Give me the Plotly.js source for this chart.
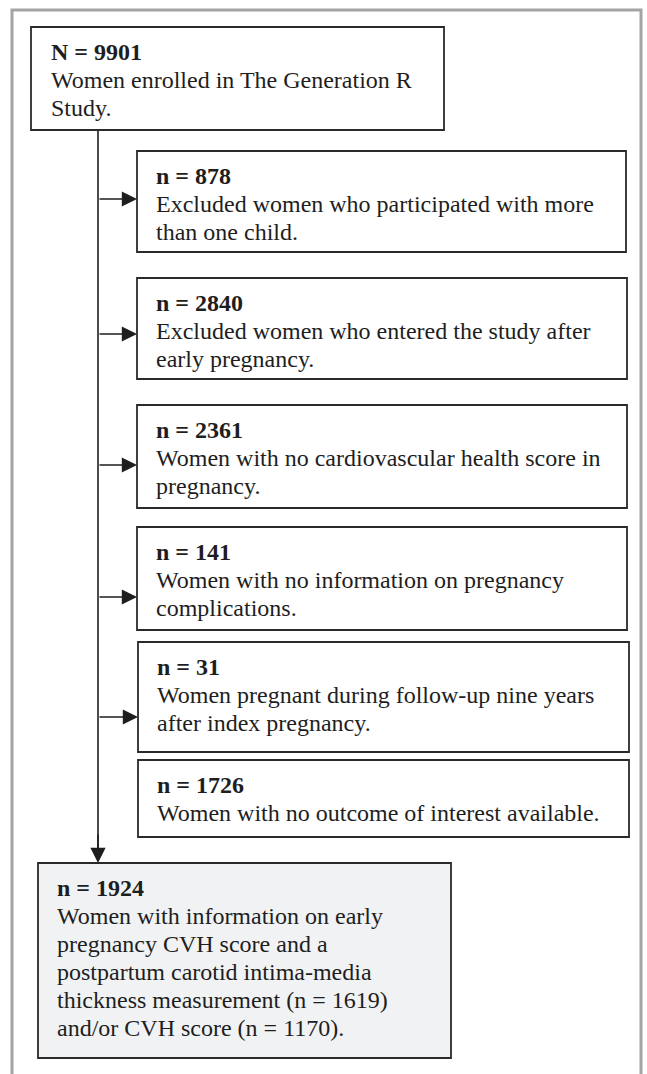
<!DOCTYPE html>
<html>
<head>
<meta charset="utf-8">
<script src="https://cdn.plot.ly/plotly-3.0.1.min.js"></script>
<style>html,body{margin:0;padding:0;background:#fff;}#chart{width:647px;height:1074px;}</style>
</head>
<body>
<div id="chart"></div>
<script>
// ---- Data (flowchart content) ----
const counts = ['N = 9901', 'n = 878', 'n = 2840', 'n = 2361', 'n = 141', 'n = 31', 'n = 1726', 'n = 1924'];
const descriptions = [
  ['Women enrolled in The Generation R', 'Study.'],
  ['Excluded women who participated with more', 'than one child.'],
  ['Excluded women who entered the study after', 'early pregnancy.'],
  ['Women with no cardiovascular health score in', 'pregnancy.'],
  ['Women with no information on pregnancy', 'complications.'],
  ['Women pregnant during follow-up nine years', 'after index pregnancy.'],
  ['Women with no outcome of interest available.'],
  ['Women with information on early', 'pregnancy CVH score and a', 'postpartum carotid intima-media',
   'thickness measurement (n = 1619)', 'and/or CVH score (n = 1170).']
];
const boxRole = ['start', 'exclusion', 'exclusion', 'exclusion', 'exclusion', 'exclusion', 'exclusion', 'final'];

// ---- Layout geometry (pixel coordinates on a 647 x 1074 canvas) ----
const boxX0 = [31, 137, 137, 137, 137, 138, 138, 38];
const boxX1 = [444, 626, 627, 627, 627, 629, 629, 451];
const boxY0 = [27, 151, 278, 405, 527, 642, 760, 863];
const boxY1 = [130, 252, 379, 508, 630, 752, 837, 1058];
const arrowY = [null, 199, 334, 465, 597, 717, null, null];
const spineX = 98;
const textPad = 17;
const firstLine = 25;
const lineStep = 28;

const FONT = '"Liberation Serif", "Times New Roman", serif';
const INK = '#1e1e1e';

const shapes = [];
const annotations = [];

// Outer grey frame
shapes.push({type: 'rect', xref: 'x', yref: 'y', x0: 12, x1: 641, y0: 10, y1: 1090,
  line: {color: '#a4a4a4', width: 3}, fillcolor: 'rgba(0,0,0,0)', layer: 'below'});

// Spine line
shapes.push({type: 'line', xref: 'x', yref: 'y', x0: spineX, x1: spineX, y0: boxY1[0], y1: boxY0[7] - 8,
  line: {color: INK, width: 1.6}});

counts.forEach((c, i) => {
  shapes.push({type: 'rect', xref: 'x', yref: 'y', x0: boxX0[i], x1: boxX1[i], y0: boxY0[i], y1: boxY1[i],
    line: {color: '#2a2a2a', width: 1.8},
    fillcolor: boxRole[i] === 'final' ? '#f1f2f4' : '#ffffff'});
  const tx = boxX0[i] + textPad + (i === 0 ? 1 : 0);
  const lines = ['<b>' + c + '</b>'].concat(descriptions[i]);
  lines.forEach((t, k) => {
    annotations.push({xref: 'x', yref: 'y', x: tx, y: boxY0[i] + firstLine + k * lineStep,
      text: t, showarrow: false, xanchor: 'left', yanchor: 'middle', align: 'left',
      font: {family: FONT, size: 24, color: INK}});
  });
  if (arrowY[i] !== null) {
    annotations.push({xref: 'x', yref: 'y', axref: 'x', ayref: 'y', x: boxX0[i], y: arrowY[i],
      ax: spineX, ay: arrowY[i], text: '', showarrow: true, arrowhead: 2, arrowsize: 1.9,
      arrowwidth: 1.6, arrowcolor: INK, standoff: 0});
  }
});

// Down arrow into the final box
annotations.push({xref: 'x', yref: 'y', axref: 'x', ayref: 'y', x: spineX, y: boxY0[7],
  ax: spineX, ay: boxY0[7] - 30, text: '', showarrow: true, arrowhead: 2, arrowsize: 1.9,
  arrowwidth: 1.6, arrowcolor: INK, standoff: 0});

const layout = {
  width: 647, height: 1074,
  margin: {l: 0, r: 0, t: 0, b: 0},
  paper_bgcolor: '#ffffff', plot_bgcolor: '#ffffff',
  xaxis: {range: [0, 647], visible: false, fixedrange: true},
  yaxis: {range: [1074, 0], visible: false, fixedrange: true},
  showlegend: false,
  shapes: shapes,
  annotations: annotations
};

Plotly.newPlot('chart', [{x: [], y: [], type: 'scatter', mode: 'markers', hoverinfo: 'skip'}], layout,
  {staticPlot: true, displayModeBar: false});
</script>
</body>
</html>
